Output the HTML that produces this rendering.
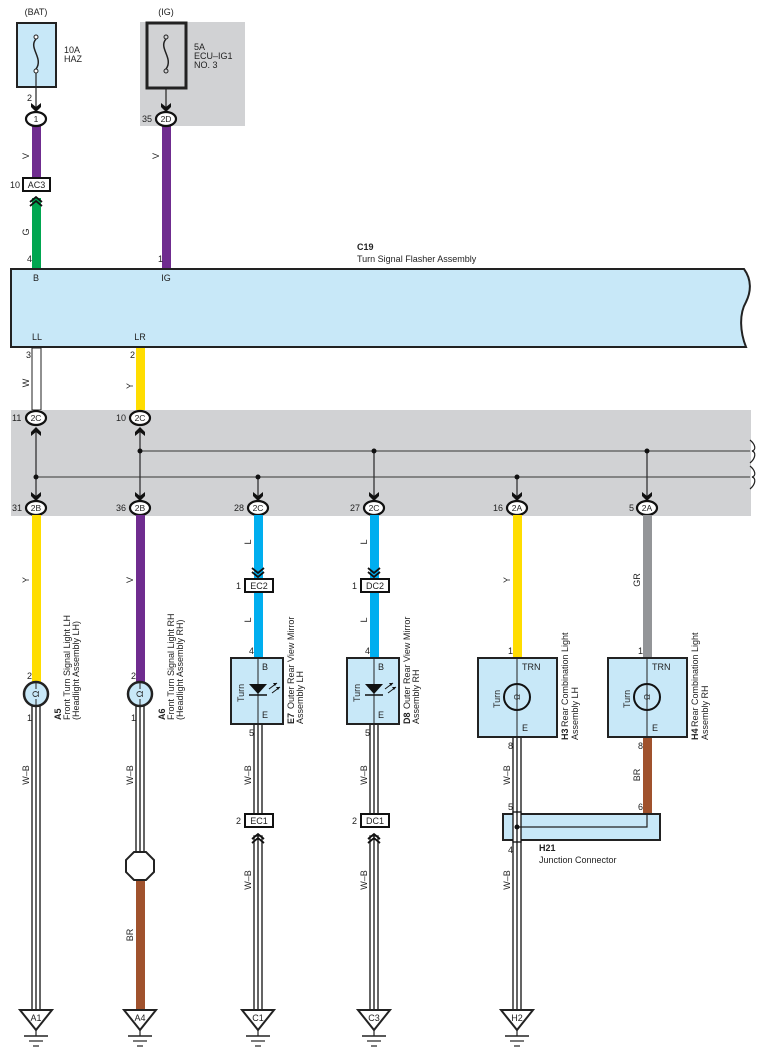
<!DOCTYPE html>
<html><head><meta charset="utf-8"><style>
html,body{margin:0;padding:0;background:#fff;}
svg{display:block;font-family:"Liberation Sans",Arial,sans-serif;}
text{font-size:9px;fill:#222;}
.b{font-weight:bold;}
</style></head><body>
<svg width="764" height="1062" viewBox="0 0 764 1062" xmlns="http://www.w3.org/2000/svg">
<defs>
<g id="chd"><path d="M-5,-7 L0,-3 L5,-7 L5,-3 L0,2 L-5,-3 Z" fill="#111"/></g>
<g id="chu"><path d="M-5,7 L0,3 L5,7 L5,3 L0,-2 L-5,3 Z" fill="#111"/></g>
<g id="dchd"><path d="M-6,-8 L0,-3 L6,-8 M-6,-4 L0,1 L6,-4" fill="none" stroke="#111" stroke-width="1.8"/></g>
<g id="dchu"><path d="M-6,8 L0,3 L6,8 M-6,4 L0,-1 L6,4" fill="none" stroke="#111" stroke-width="1.8"/></g>
<g id="gnd"><path d="M-16,0 L16,0 L0,20 Z" fill="#fff" stroke="#222" stroke-width="2"/><line x1="0" y1="20" x2="0" y2="26" stroke="#222" stroke-width="1.2"/><line x1="-12" y1="26" x2="12" y2="26" stroke="#222" stroke-width="1.5"/><line x1="-7" y1="31" x2="7" y2="31" stroke="#222" stroke-width="1.2"/><line x1="-3" y1="36" x2="3" y2="36" stroke="#222" stroke-width="1.2"/></g>
<g id="bulb"><circle r="12" fill="#c8e8f8" stroke="#222" stroke-width="2.5"/><path d="M0,-12 L0,-5 M0,5 L0,12" stroke="#222" stroke-width="1"/><text transform="rotate(-90)" x="0" y="3" text-anchor="middle" style="font-size:9px">Ω</text></g>
</defs>

<text x="36" y="15" text-anchor="middle">(BAT)</text>
<rect x="17" y="23" width="39" height="64" fill="#c8e8f8" stroke="#222" stroke-width="2"/>
<circle cx="36" cy="37" r="2" fill="#fff" stroke="#222"/><circle cx="36" cy="71" r="2" fill="#fff" stroke="#222"/>
<path d="M36,39 C28,48 44,58 36,69" fill="none" stroke="#222" stroke-width="1.5"/>
<text x="64" y="53">10A</text><text x="64" y="62">HAZ</text>
<line x1="36" y1="73" x2="36" y2="108" stroke="#222" stroke-width="1.2"/>
<text x="27" y="101">2</text>
<use href="#chd" x="36" y="110"/>

<rect x="140" y="22" width="105" height="104" fill="#d1d2d4"/>
<text x="166" y="15" text-anchor="middle">(IG)</text>
<rect x="147" y="23" width="39" height="65" fill="none" stroke="#222" stroke-width="3"/>
<circle cx="166" cy="37" r="2" fill="#d1d2d4" stroke="#222"/><circle cx="166" cy="71" r="2" fill="#d1d2d4" stroke="#222"/>
<path d="M166,39 C158,48 174,58 166,69" fill="none" stroke="#222" stroke-width="1.5"/>
<text x="194" y="50">5A</text><text x="194" y="59">ECU–IG1</text><text x="194" y="68">NO. 3</text>
<line x1="166" y1="88" x2="166" y2="108" stroke="#222" stroke-width="1.2"/>
<use href="#chd" x="166" y="110"/>

<rect x="32" y="125" width="9" height="53" fill="#6f2c8f"/>
<rect x="162" y="125" width="9" height="144" fill="#6f2c8f"/>
<rect x="32" y="198" width="9" height="71" fill="#00a650"/>
<ellipse cx="36" cy="119" rx="10" ry="7" fill="#fff" stroke="#111" stroke-width="2.2"/><text x="36" y="122" text-anchor="middle" style="font-size:8.5px">1</text>
<ellipse cx="166" cy="119" rx="10" ry="7" fill="#fff" stroke="#111" stroke-width="2.2"/><text x="166" y="122" text-anchor="middle" style="font-size:8.5px">2D</text>
<text x="142" y="122">35</text>
<text transform="translate(29,156) rotate(-90)" text-anchor="middle">V</text>
<text transform="translate(159,156) rotate(-90)" text-anchor="middle">V</text>
<rect x="23" y="178" width="27" height="13" fill="#fff" stroke="#111" stroke-width="2"/><text x="36.5" y="188" text-anchor="middle">AC3</text>
<text x="10" y="188">10</text>
<use href="#dchu" x="36" y="198"/>
<text transform="translate(29,232) rotate(-90)" text-anchor="middle">G</text>
<text x="27" y="262">4</text><text x="158" y="262">1</text>

<text x="357" y="250" class="b">C19</text>
<text x="357" y="262">Turn Signal Flasher Assembly</text>
<path d="M11,269 L744,269 C752,280 751,292 746,302 C739,314 740,332 746,347 L11,347 Z" fill="#c8e8f8" stroke="#222" stroke-width="2"/>
<text x="36" y="281" text-anchor="middle">B</text><text x="166" y="281" text-anchor="middle">IG</text>
<text x="37" y="340" text-anchor="middle">LL</text><text x="140" y="340" text-anchor="middle">LR</text>

<rect x="32" y="348" width="9" height="62" fill="#fff" stroke="#222" stroke-width="1"/>
<rect x="136" y="348" width="9" height="62" fill="#ffdd00"/>
<text x="26" y="358">3</text><text x="130" y="358">2</text>
<text transform="translate(29,383) rotate(-90)" text-anchor="middle">W</text>
<text transform="translate(133,386) rotate(-90)" text-anchor="middle">Y</text>

<rect x="11" y="410" width="740" height="106" fill="#d1d2d4"/>
<line x1="140" y1="451" x2="750" y2="451" stroke="#555" stroke-width="1.2"/>
<line x1="36" y1="477" x2="750" y2="477" stroke="#555" stroke-width="1.2"/>
<path d="M750,440 C756,445 756,450 752,451 C756,452 756,458 750,463 M750,466 C756,471 756,476 752,477 C756,478 756,484 750,489" fill="none" stroke="#222" stroke-width="1.2"/>
<g stroke="#333" stroke-width="1.3">
<line x1="36" y1="432" x2="36" y2="500"/><line x1="140" y1="432" x2="140" y2="500"/>
<line x1="258" y1="477" x2="258" y2="500"/><line x1="374" y1="451" x2="374" y2="500"/>
<line x1="517" y1="477" x2="517" y2="500"/><line x1="647" y1="451" x2="647" y2="500"/>
</g>
<g fill="#111"><circle cx="36" cy="477" r="2.5"/><circle cx="140" cy="451" r="2.5"/><circle cx="258" cy="477" r="2.5"/><circle cx="374" cy="451" r="2.5"/><circle cx="517" cy="477" r="2.5"/><circle cx="647" cy="451" r="2.5"/></g>
<use href="#chu" x="36" y="429"/><use href="#chu" x="140" y="429"/>
<use href="#chd" x="36" y="499"/><use href="#chd" x="140" y="499"/><use href="#chd" x="258" y="499"/><use href="#chd" x="374" y="499"/><use href="#chd" x="517" y="499"/><use href="#chd" x="647" y="499"/>
<g fill="#fff" stroke="#111" stroke-width="2.2">
<ellipse cx="36" cy="418" rx="10" ry="7"/><ellipse cx="140" cy="418" rx="10" ry="7"/>
<ellipse cx="36" cy="508" rx="10" ry="7"/><ellipse cx="140" cy="508" rx="10" ry="7"/><ellipse cx="258" cy="508" rx="10" ry="7"/><ellipse cx="374" cy="508" rx="10" ry="7"/><ellipse cx="517" cy="508" rx="10" ry="7"/><ellipse cx="647" cy="508" rx="10" ry="7"/>
</g>
<g text-anchor="middle" style="font-size:8.5px"><text x="36" y="421" style="font-size:8.5px">2C</text><text x="140" y="421" style="font-size:8.5px">2C</text>
<text x="36" y="511" style="font-size:8.5px">2B</text><text x="140" y="511" style="font-size:8.5px">2B</text><text x="258" y="511" style="font-size:8.5px">2C</text><text x="374" y="511" style="font-size:8.5px">2C</text><text x="517" y="511" style="font-size:8.5px">2A</text><text x="647" y="511" style="font-size:8.5px">2A</text></g>
<text x="12" y="421">11</text><text x="116" y="421">10</text>
<text x="12" y="511">31</text><text x="116" y="511">36</text><text x="234" y="511">28</text><text x="350" y="511">27</text><text x="493" y="511">16</text><text x="629" y="511">5</text>

<rect x="32" y="515" width="9" height="167" fill="#ffdd00"/>
<rect x="136" y="515" width="9" height="167" fill="#6f2c8f"/>
<rect x="254" y="515" width="9" height="63" fill="#00aeef"/><rect x="254" y="592" width="9" height="66" fill="#00aeef"/>
<rect x="370" y="515" width="9" height="63" fill="#00aeef"/><rect x="370" y="592" width="9" height="66" fill="#00aeef"/>
<rect x="513" y="515" width="9" height="143" fill="#ffdd00"/>
<rect x="643" y="515" width="9" height="143" fill="#939598"/>
<text transform="translate(29,580) rotate(-90)" text-anchor="middle">Y</text>
<text transform="translate(133,580) rotate(-90)" text-anchor="middle">V</text>
<text transform="translate(251,542) rotate(-90)" text-anchor="middle">L</text>
<text transform="translate(367,542) rotate(-90)" text-anchor="middle">L</text>
<text transform="translate(251,620) rotate(-90)" text-anchor="middle">L</text>
<text transform="translate(367,620) rotate(-90)" text-anchor="middle">L</text>
<text transform="translate(510,580) rotate(-90)" text-anchor="middle">Y</text>
<text transform="translate(640,580) rotate(-90)" text-anchor="middle">GR</text>
<use href="#dchd" x="258" y="576"/><use href="#dchd" x="374" y="576"/>
<rect x="245" y="579" width="28" height="13" fill="#fff" stroke="#111" stroke-width="2"/><text x="259" y="589" text-anchor="middle">EC2</text>
<rect x="361" y="579" width="28" height="13" fill="#fff" stroke="#111" stroke-width="2"/><text x="375" y="589" text-anchor="middle">DC2</text>
<text x="236" y="589">1</text><text x="352" y="589">1</text>

<g>
<rect x="32" y="706" width="8" height="304" fill="#fff" stroke="#111" stroke-width="1.3"/><line x1="36" y1="706" x2="36" y2="1010" stroke="#111" stroke-width="1.3"/>
<rect x="136" y="706" width="8" height="146" fill="#fff" stroke="#111" stroke-width="1.3"/><line x1="140" y1="706" x2="140" y2="852" stroke="#111" stroke-width="1.3"/>
<rect x="254" y="724" width="8" height="91" fill="#fff" stroke="#111" stroke-width="1.3"/><line x1="258" y1="724" x2="258" y2="815" stroke="#111" stroke-width="1.3"/>
<rect x="254" y="836" width="8" height="174" fill="#fff" stroke="#111" stroke-width="1.3"/><line x1="258" y1="836" x2="258" y2="1010" stroke="#111" stroke-width="1.3"/>
<rect x="370" y="724" width="8" height="91" fill="#fff" stroke="#111" stroke-width="1.3"/><line x1="374" y1="724" x2="374" y2="815" stroke="#111" stroke-width="1.3"/>
<rect x="370" y="836" width="8" height="174" fill="#fff" stroke="#111" stroke-width="1.3"/><line x1="374" y1="836" x2="374" y2="1010" stroke="#111" stroke-width="1.3"/>
<rect x="513" y="737" width="8" height="273" fill="#fff" stroke="#111" stroke-width="1.3"/><line x1="517" y1="737" x2="517" y2="1010" stroke="#111" stroke-width="1.3"/>
</g>
<rect x="136" y="880" width="9" height="131" fill="#a0522d"/>
<rect x="643" y="737" width="9" height="77" fill="#a0522d"/>
<path d="M134,852 L146,852 L154,860 L154,872 L146,880 L134,880 L126,872 L126,860 Z" fill="#fff" stroke="#222" stroke-width="2"/>
<text transform="translate(29,775) rotate(-90)" text-anchor="middle">W–B</text>
<text transform="translate(133,775) rotate(-90)" text-anchor="middle">W–B</text>
<text transform="translate(133,935) rotate(-90)" text-anchor="middle">BR</text>
<text transform="translate(251,775) rotate(-90)" text-anchor="middle">W–B</text>
<text transform="translate(367,775) rotate(-90)" text-anchor="middle">W–B</text>
<text transform="translate(251,880) rotate(-90)" text-anchor="middle">W–B</text>
<text transform="translate(367,880) rotate(-90)" text-anchor="middle">W–B</text>
<text transform="translate(510,775) rotate(-90)" text-anchor="middle">W–B</text>
<text transform="translate(510,880) rotate(-90)" text-anchor="middle">W–B</text>
<text transform="translate(640,775) rotate(-90)" text-anchor="middle">BR</text>

<use href="#bulb" x="36" y="694"/><use href="#bulb" x="140" y="694"/>
<text x="27" y="679">2</text><text x="27" y="721">1</text><text x="131" y="679">2</text><text x="131" y="721">1</text>
<text transform="translate(61,720) rotate(-90)" class="b">A5</text>
<text transform="translate(70,720) rotate(-90)">Front Turn Signal Light LH</text>
<text transform="translate(79,720) rotate(-90)">(Headlight Assembly LH)</text>
<text transform="translate(165,720) rotate(-90)" class="b">A6</text>
<text transform="translate(174,720) rotate(-90)">Front Turn Signal Light RH</text>
<text transform="translate(183,720) rotate(-90)">(Headlight Assembly RH)</text>

<g id="mir">
<rect x="231" y="658" width="52" height="66" fill="#c8e8f8" stroke="#222" stroke-width="2"/>
<line x1="258" y1="658" x2="258" y2="724" stroke="#222" stroke-width="1"/>
<path d="M249,684 L267,684 L258,694 Z" fill="#111"/><line x1="249" y1="695" x2="267" y2="695" stroke="#111" stroke-width="1.5"/>
<path d="M269,689 L277,683 M272,693 L280,687" stroke="#111" stroke-width="1"/>
<path d="M277,683 l-4,0 l2,3 Z M280,687 l-4,0 l2,3 Z" fill="#111"/>
<text x="262" y="670">B</text><text x="262" y="718">E</text>
<text transform="translate(244,702) rotate(-90)">Turn</text>
</g>
<use href="#mir" x="116" y="0"/>
<text x="249" y="654">4</text><text x="249" y="736">5</text><text x="365" y="654">4</text><text x="365" y="736">5</text>
<text transform="translate(294,724) rotate(-90)" class="b">E7</text>
<text transform="translate(294,709) rotate(-90)">Outer Rear View Mirror</text>
<text transform="translate(303,724) rotate(-90)">Assembly LH</text>
<text transform="translate(410,724) rotate(-90)" class="b">D8</text>
<text transform="translate(410,709) rotate(-90)">Outer Rear View Mirror</text>
<text transform="translate(419,724) rotate(-90)">Assembly RH</text>
<use href="#dchu" x="258" y="835"/><use href="#dchu" x="374" y="835"/>
<rect x="245" y="814" width="28" height="13" fill="#fff" stroke="#111" stroke-width="2"/><text x="259" y="824" text-anchor="middle">EC1</text>
<rect x="361" y="814" width="28" height="13" fill="#fff" stroke="#111" stroke-width="2"/><text x="375" y="824" text-anchor="middle">DC1</text>
<text x="236" y="824">2</text><text x="352" y="824">2</text>

<g id="rcl">
<rect x="478" y="658" width="79" height="79" fill="#c8e8f8" stroke="#222" stroke-width="2"/>
<line x1="517" y1="658" x2="517" y2="737" stroke="#222" stroke-width="1"/>
<circle cx="517" cy="697" r="13" fill="#c8e8f8" stroke="#111" stroke-width="2"/>
<line x1="517" y1="684" x2="517" y2="710" stroke="#222" stroke-width="1"/>
<text transform="translate(520,697) rotate(-90)" text-anchor="middle" style="font-size:8px">Ω</text>
<text x="522" y="670">TRN</text><text x="522" y="731">E</text>
<text transform="translate(500,708) rotate(-90)">Turn</text>
</g>
<use href="#rcl" x="130" y="0"/>
<text x="508" y="654">1</text><text x="508" y="749">8</text><text x="638" y="654">1</text><text x="638" y="749">8</text>
<text transform="translate(568,740) rotate(-90)" class="b">H3</text>
<text transform="translate(568,727) rotate(-90)">Rear Combination Light</text>
<text transform="translate(578,740) rotate(-90)">Assembly LH</text>
<text transform="translate(698,740) rotate(-90)" class="b">H4</text>
<text transform="translate(698,727) rotate(-90)">Rear Combination Light</text>
<text transform="translate(708,740) rotate(-90)">Assembly RH</text>

<rect x="503" y="814" width="157" height="26" fill="#c8e8f8" stroke="#222" stroke-width="2"/>
<rect x="513" y="812" width="8" height="30" fill="#fff" stroke="#111" stroke-width="1.3"/><line x1="517" y1="812" x2="517" y2="842" stroke="#111" stroke-width="1.3"/>
<path d="M517,827 L647,827 L647,814" fill="none" stroke="#222" stroke-width="1.2"/>
<circle cx="517" cy="827" r="2.5" fill="#111"/>
<text x="508" y="810">5</text><text x="638" y="810">6</text><text x="508" y="853">4</text>
<text x="539" y="851" class="b">H21</text><text x="539" y="863">Junction Connector</text>

<use href="#gnd" x="36" y="1010"/><use href="#gnd" x="140" y="1010"/><use href="#gnd" x="258" y="1010"/><use href="#gnd" x="374" y="1010"/><use href="#gnd" x="517" y="1010"/>
<g text-anchor="middle"><text x="36" y="1021">A1</text><text x="140" y="1021">A4</text><text x="258" y="1021">C1</text><text x="374" y="1021">C3</text><text x="517" y="1021">H2</text></g>
</svg>
</body></html>
